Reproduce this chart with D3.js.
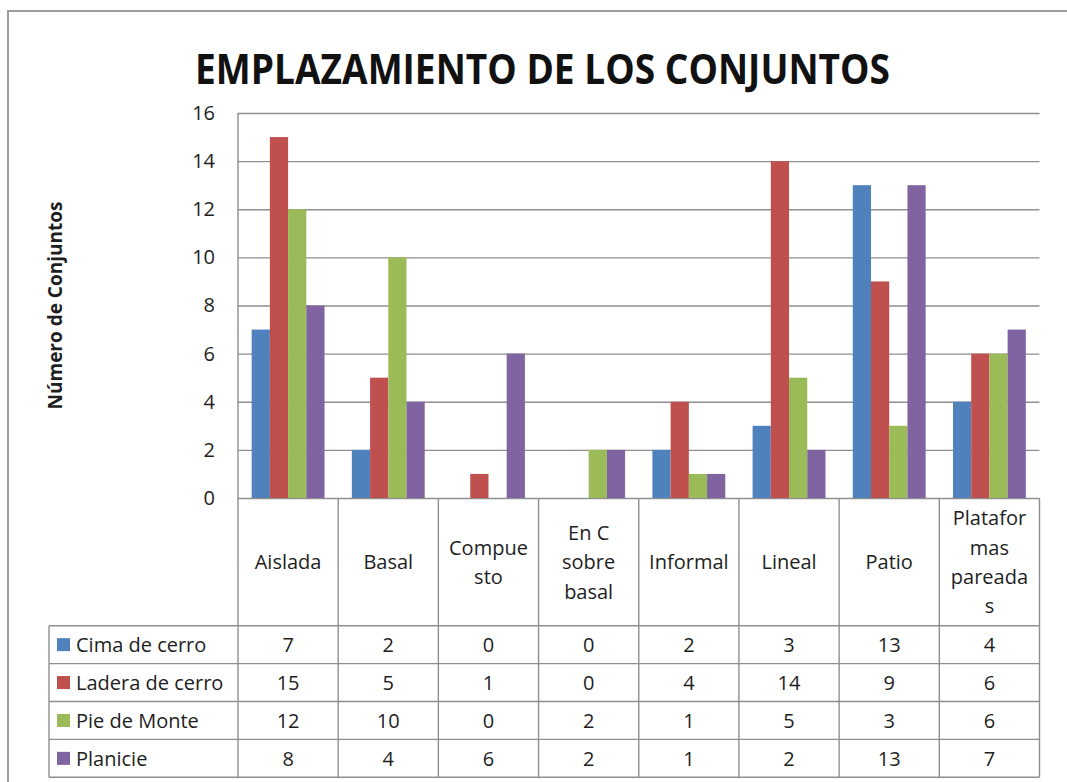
<!DOCTYPE html>
<html>
<head>
<meta charset="utf-8">
<script src="https://cdn.jsdelivr.net/npm/d3@7"></script>
<style>
  body { margin: 0; background: #fff; }
  svg { display: block; font-family: "Open Sans", Lato, sans-serif; }
</style>
</head>
<body>
<svg id="chart" width="1067" height="782"></svg>
<script>
// Site types (x categories) and how their header cells wrap
const categories = ["Aislada", "Basal", "Compuesto", "En C sobre basal", "Informal", "Lineal", "Patio", "Plataformas pareadas"];
const categoryLines = [["Aislada"], ["Basal"], ["Compue", "sto"], ["En C", "sobre", "basal"], ["Informal"], ["Lineal"], ["Patio"], ["Platafor", "mas", "pareada", "s"]];

// Location series
const seriesNames = ["Cima de cerro", "Ladera de cerro", "Pie de Monte", "Planicie"];
const cimaDeCerro   = [7, 2, 0, 0, 2, 3, 13, 4];
const laderaDeCerro = [15, 5, 1, 0, 4, 14, 9, 6];
const pieDeMonte    = [12, 10, 0, 2, 1, 5, 3, 6];
const planicie      = [8, 4, 6, 2, 1, 2, 13, 7];
const seriesColors  = ["#4F81BD", "#C0504D", "#9BBB59", "#8064A2"];

const yTicks = [0, 2, 4, 6, 8, 10, 12, 14, 16];
const titleText = "EMPLAZAMIENTO DE LOS CONJUNTOS";
const yTitleText = "Número de Conjuntos";

const seriesValues = [cimaDeCerro, laderaDeCerro, pieDeMonte, planicie];

const svg = d3.select("#chart");
const textColor = "#1e1e1e";
const lineColor = "#8f8f8f";
const bodySize = 20;

// Layout
const plotLeft = 238, plotRight = 1039.5, plotTop = 113, plotBottom = 498;
const headerBottom = 625.7, rowH = 37.9;
const legendLeft = 49;
const tableBottom = headerBottom + rowH * seriesNames.length;

const x0 = d3.scaleBand().domain(categories).range([plotLeft, plotRight]).paddingInner(0).paddingOuter(0);
const bw = x0.bandwidth();
const gap = bw * 1.5 / 5.5 / 2;
const x1 = d3.scaleBand().domain(seriesNames).range([gap, bw - gap]).paddingInner(0);
const y = d3.scaleLinear().domain([0, 16]).range([plotBottom, plotTop]);

// Outer chart frame
svg.append("path")
  .attr("d", `M8,790 L8,11 L1080,11`)
  .attr("fill", "none").attr("stroke", "#9c9c9c").attr("stroke-width", 2);

// Title
svg.append("text")
  .attr("x", 542.5).attr("y", 84)
  .attr("text-anchor", "middle")
  .attr("font-size", 41).attr("font-weight", "bold")
  .attr("fill", "#111")
  .attr("textLength", 695).attr("lengthAdjust", "spacingAndGlyphs")
  .text(titleText);

// Y axis title
svg.append("text")
  .attr("transform", `translate(55,${(plotTop + plotBottom) / 2}) rotate(-90)`)
  .attr("text-anchor", "middle")
  .attr("dominant-baseline", "central")
  .attr("font-size", 19).attr("font-weight", "bold")
  .attr("fill", textColor)
  .text(yTitleText);

// Gridlines and tick labels
const yAxis = d3.axisLeft(y).tickValues(yTicks).tickSize(-(plotRight - plotLeft)).tickPadding(23);
const gy = svg.append("g").attr("transform", `translate(${plotLeft},0)`).call(yAxis);
gy.select(".domain").remove();
gy.selectAll(".tick line").attr("stroke", lineColor).attr("stroke-width", 1.4);
gy.selectAll(".tick text")
  .attr("font-size", bodySize).attr("fill", textColor)
  .attr("font-family", "'Open Sans', Lato, sans-serif");

// Bars
const groups = svg.append("g").selectAll("g")
  .data(categories)
  .join("g")
  .attr("transform", d => `translate(${x0(d)},0)`);
groups.selectAll("rect")
  .data((c, i) => seriesNames.map((s, j) => ({ s, v: seriesValues[j][i], color: seriesColors[j] })))
  .join("rect")
  .attr("x", d => x1(d.s))
  .attr("width", x1.bandwidth())
  .attr("y", d => y(d.v))
  .attr("height", d => y(0) - y(d.v))
  .attr("fill", d => d.color);

// Data table grid
const grid = svg.append("g").attr("stroke", lineColor).attr("stroke-width", 1.4);
grid.append("line").attr("x1", plotLeft).attr("x2", plotLeft).attr("y1", plotTop).attr("y2", tableBottom);
categories.forEach(c => {
  const xr = x0(c) + bw;
  grid.append("line").attr("x1", xr).attr("x2", xr).attr("y1", plotBottom).attr("y2", tableBottom);
});
grid.append("line").attr("x1", legendLeft).attr("x2", legendLeft).attr("y1", headerBottom).attr("y2", tableBottom);
d3.range(seriesNames.length + 1).forEach(i => {
  const yy = headerBottom + i * rowH;
  grid.append("line").attr("x1", legendLeft).attr("x2", plotRight).attr("y1", yy).attr("y2", yy);
});

// Header cells
const headerMid = (plotBottom + headerBottom) / 2;
const lineGap = 29.4;
categories.forEach((c, i) => {
  const lines = categoryLines[i];
  const t = svg.append("text")
    .attr("x", x0(c) + bw / 2)
    .attr("text-anchor", "middle")
    .attr("font-size", bodySize).attr("fill", textColor);
  lines.forEach((ln, k) => {
    t.append("tspan")
      .attr("x", x0(c) + bw / 2)
      .attr("y", headerMid + (k - (lines.length - 1) / 2) * lineGap)
      .attr("dominant-baseline", "central")
      .text(ln);
  });
});

// Legend keys and value rows
seriesNames.forEach((s, j) => {
  const cy = headerBottom + j * rowH + rowH / 2;
  svg.append("rect")
    .attr("x", 57).attr("y", cy - 6.5).attr("width", 13).attr("height", 13)
    .attr("fill", seriesColors[j]);
  svg.append("text")
    .attr("x", 76).attr("y", cy)
    .attr("dominant-baseline", "central")
    .attr("font-size", bodySize).attr("fill", textColor)
    .text(s);
  categories.forEach((c, i) => {
    svg.append("text")
      .attr("x", x0(c) + bw / 2).attr("y", cy)
      .attr("text-anchor", "middle")
      .attr("dominant-baseline", "central")
      .attr("font-size", bodySize).attr("fill", textColor)
      .text(seriesValues[j][i]);
  });
});
</script>
</body>
</html>
